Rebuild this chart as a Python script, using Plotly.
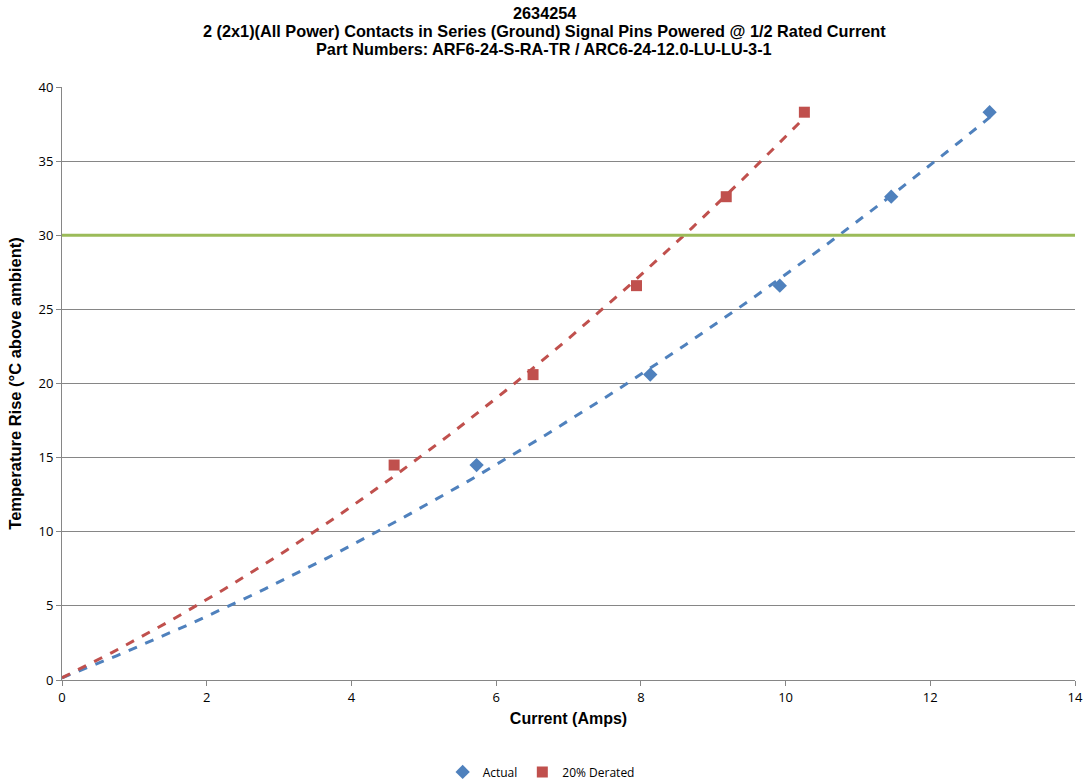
import numpy as np
import plotly.graph_objects as go

# Data
actual_x = [5.73, 8.13, 9.92, 11.46, 12.82]
actual_y = [14.5, 20.6, 26.6, 32.6, 38.3]
derated_x = [4.59, 6.51, 7.94, 9.18, 10.26]
derated_y = [14.5, 20.6, 26.6, 32.6, 38.3]
origin_x = [0.0]   # trendlines are anchored at the origin
origin_y = [0.0]
limit_y = 30

title_lines = [
    "2634254",
    "2 (2x1)(All Power) Contacts in Series (Ground) Signal Pins Powered @ 1/2 Rated Current",
    "Part Numbers: ARF6-24-S-RA-TR / ARC6-24-12.0-LU-LU-3-1",
]

BLUE = "#4F81BD"
RED = "#C0504D"
GREEN = "#9BBB59"

def trend(xs, ys):
    fx = origin_x + xs
    fy = origin_y + ys
    c = np.polyfit(fx, fy, 2)
    xx = np.linspace(0, max(xs), 120)
    return xx, np.polyval(c, xx)

fig = go.Figure()

tx, ty = trend(actual_x, actual_y)
fig.add_trace(go.Scatter(x=tx, y=ty, mode="lines", showlegend=False, hoverinfo="skip",
                         line=dict(color=BLUE, width=3, dash="dash")))
tx2, ty2 = trend(derated_x, derated_y)
fig.add_trace(go.Scatter(x=tx2, y=ty2, mode="lines", showlegend=False, hoverinfo="skip",
                         line=dict(color=RED, width=3, dash="dash")))

fig.add_trace(go.Scatter(x=[0, 14], y=[limit_y, limit_y], mode="lines", showlegend=False,
                         line=dict(color=GREEN, width=3)))

fig.add_trace(go.Scatter(x=actual_x, y=actual_y, mode="markers", name="Actual",
                         marker=dict(symbol="diamond", size=11, color=BLUE)))
fig.add_trace(go.Scatter(x=derated_x, y=derated_y, mode="markers", name="20% Derated",
                         marker=dict(symbol="square", size=11, color=RED)))

title_y = [1.1248, 1.0944, 1.064]
for txt, yy in zip(title_lines, title_y):
    fig.add_annotation(text="<b>%s</b>" % txt, x=0.4763, xref="paper", y=yy, yref="paper",
                       xanchor="center", yanchor="middle", showarrow=False,
                       font=dict(family="Liberation Sans, Arial", size=16.3, color="black"))

fig.update_layout(
    width=1089, height=784,
    paper_bgcolor="white", plot_bgcolor="white",
    margin=dict(l=62, r=14, t=87, b=104, autoexpand=False),
    font=dict(family="Open Sans, Liberation Sans", size=13, color="black"),
    showlegend=True,
    legend=dict(orientation="h", x=0.473, xanchor="center", xref="paper",
                y=-0.155, yref="paper", yanchor="middle",
                font=dict(size=12, family="Open Sans"), itemwidth=30),
)

fig.update_xaxes(
    range=[0, 14], dtick=2, tick0=0, showgrid=False, zeroline=False,
    showline=True, linecolor="#868686", linewidth=1,
    ticks="outside", ticklen=5, tickcolor="#868686",
    title=dict(text="<b>Current (Amps)</b>", font=dict(family="Liberation Sans, Arial", size=16), standoff=8),
    tickfont=dict(size=13),
)
fig.update_yaxes(
    range=[0, 40], dtick=5, tick0=0, showgrid=True, gridcolor="#868686", gridwidth=1,
    zeroline=False, showline=True, linecolor="#868686", linewidth=1,
    ticks="outside", ticklen=5, tickcolor="#868686",
    title=dict(text="<b>Temperature Rise (°C above ambient)</b>", font=dict(family="Liberation Sans, Arial", size=16.5), standoff=12),
    tickfont=dict(size=13),
)

fig.write_html("out.html")
